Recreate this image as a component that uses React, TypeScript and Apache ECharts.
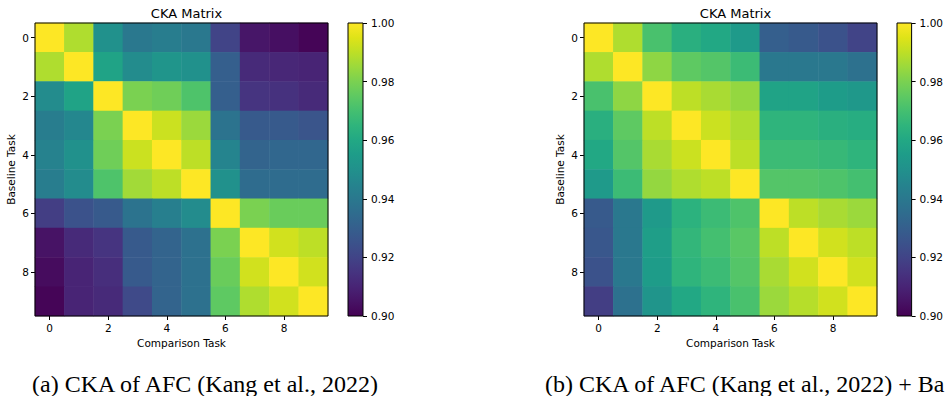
import React, { useEffect, useRef } from "react";
import * as echarts from "echarts";

const tasks = ["0", "1", "2", "3", "4", "5", "6", "7", "8", "9"];
const colorbarRange = [0.9, 1.0];
const colorbarInterval = 0.02;
const chartTitle = "CKA Matrix";
const xName = "Comparison Task";
const yName = "Baseline Task";
const captionA = "(a) CKA of AFC (Kang et al., 2022)";
const captionB = "(b) CKA of AFC (Kang et al., 2022) + Ba";

// rows = Baseline Task, columns = Comparison Task
const ckaAFC: number[][] = [
  [1.0, 0.988, 0.95, 0.94, 0.942, 0.94, 0.92, 0.906, 0.904, 0.901],
  [0.988, 1.0, 0.958, 0.948, 0.952, 0.95, 0.93, 0.912, 0.911, 0.91],
  [0.948, 0.958, 1.0, 0.98, 0.978, 0.972, 0.93, 0.915, 0.914, 0.912],
  [0.942, 0.946, 0.98, 1.0, 0.992, 0.985, 0.938, 0.928, 0.928, 0.926],
  [0.944, 0.95, 0.978, 0.992, 1.0, 0.99, 0.945, 0.932, 0.933, 0.933],
  [0.942, 0.948, 0.972, 0.986, 0.99, 1.0, 0.95, 0.935, 0.935, 0.935],
  [0.918, 0.925, 0.928, 0.938, 0.943, 0.948, 1.0, 0.98, 0.977, 0.977],
  [0.905, 0.912, 0.915, 0.928, 0.932, 0.937, 0.98, 1.0, 0.993, 0.99],
  [0.903, 0.91, 0.913, 0.928, 0.932, 0.937, 0.977, 0.993, 1.0, 0.993],
  [0.901, 0.91, 0.912, 0.922, 0.932, 0.937, 0.975, 0.988, 0.993, 1.0],
];

const ckaAFCPlus: number[][] = [
  [1.0, 0.988, 0.971, 0.963, 0.96, 0.954, 0.93, 0.928, 0.925, 0.92],
  [0.988, 1.0, 0.983, 0.975, 0.973, 0.968, 0.94, 0.94, 0.94, 0.937],
  [0.971, 0.983, 1.0, 0.99, 0.987, 0.984, 0.958, 0.958, 0.955, 0.953],
  [0.963, 0.975, 0.99, 1.0, 0.992, 0.988, 0.965, 0.965, 0.963, 0.962],
  [0.96, 0.973, 0.987, 0.992, 1.0, 0.99, 0.968, 0.968, 0.967, 0.965],
  [0.954, 0.968, 0.984, 0.988, 0.99, 1.0, 0.973, 0.973, 0.972, 0.97],
  [0.928, 0.94, 0.954, 0.964, 0.968, 0.972, 1.0, 0.99, 0.987, 0.985],
  [0.927, 0.94, 0.956, 0.966, 0.97, 0.974, 0.99, 1.0, 0.993, 0.99],
  [0.925, 0.94, 0.955, 0.965, 0.968, 0.973, 0.987, 0.993, 1.0, 0.993],
  [0.918, 0.937, 0.952, 0.96, 0.965, 0.971, 0.985, 0.989, 0.993, 1.0],
];

const viridis = [
  "#440154", "#471365", "#482475", "#463480", "#414487", "#3b528b", "#355f8d",
  "#2f6c8e", "#2a788e", "#25848e", "#21918c", "#1e9c89", "#22a884", "#2fb47c",
  "#44bf70", "#5ec962", "#7ad151", "#9bd93c", "#bddf26", "#dfe318", "#fde725",
];

const FONT = "DejaVu Sans";
const SERIF = "Liberation Serif";

function toCells(m: number[][]) {
  const out: [number, number, number][] = [];
  m.forEach((row, r) => row.forEach((v, c) => out.push([c, r, v])));
  return out;
}

export default function App() {
  const ref = useRef<HTMLDivElement>(null);
  useEffect(() => {
    document.body.style.margin = "0";
    if (!ref.current) return;
    const chart = echarts.init(ref.current, undefined, { renderer: "svg" });

    const heatLefts = [35, 584];
    const cbLefts = [348, 897];
    const top = 23;
    const size = 293;

    const grids: any[] = [];
    const xAxes: any[] = [];
    const yAxes: any[] = [];
    const series: any[] = [];
    const visualMaps: any[] = [];
    const titles: any[] = [];
    const mats = [ckaAFC, ckaAFCPlus];

    const labelStyle = { color: "#000", fontFamily: FONT, fontSize: 10.5 };
    const tickStyle = { show: true, length: 4, lineStyle: { color: "#000", width: 1 } };

    const gradStops = viridis.map((c, i) => ({ offset: i / (viridis.length - 1), color: c }));

    for (let k = 0; k < 2; k++) {
      const hg = grids.length;
      grids.push({
        left: heatLefts[k], top, width: size, height: size,
        show: true, borderColor: "#000", borderWidth: 1, backgroundColor: "transparent", z: 10,
      });
      const cg = grids.length;
      grids.push({
        left: cbLefts[k], top, width: 15, height: size,
        show: true, borderColor: "#000", borderWidth: 1, backgroundColor: "transparent", z: 10,
      });

      const hx = xAxes.length;
      xAxes.push({
        type: "category", gridIndex: hg, data: tasks, position: "bottom",
        name: xName, nameLocation: "middle", nameGap: 21,
        nameTextStyle: { color: "#000", fontFamily: FONT, fontSize: 10.5 },
        axisLine: { show: false },
        axisTick: { ...tickStyle, alignWithLabel: true, interval: 1 },
        axisLabel: { ...labelStyle, interval: 1, margin: 6 },
        splitLine: { show: false },
      });
      const cx = xAxes.length;
      xAxes.push({
        type: "category", gridIndex: cg, data: ["cb"], show: false,
      });
      const hy = yAxes.length;
      yAxes.push({
        type: "category", gridIndex: hg, data: tasks, inverse: true, position: "left",
        name: yName, nameLocation: "middle", nameGap: 19,
        nameTextStyle: { color: "#000", fontFamily: FONT, fontSize: 10.5 },
        axisLine: { show: false },
        axisTick: { ...tickStyle, alignWithLabel: true, interval: 1 },
        axisLabel: { ...labelStyle, interval: 1, margin: 6 },
        splitLine: { show: false },
      });
      const cy = yAxes.length;
      yAxes.push({
        type: "value", gridIndex: cg, position: "right",
        min: colorbarRange[0], max: colorbarRange[1], interval: colorbarInterval,
        axisLine: { show: false },
        axisTick: tickStyle,
        axisLabel: { ...labelStyle, margin: 8, formatter: (v: number) => v.toFixed(2) },
        splitLine: { show: false },
      });

      const si = series.length;
      series.push({
        type: "heatmap", xAxisIndex: hx, yAxisIndex: hy, data: toCells(mats[k]),
        emphasis: { disabled: true }, itemStyle: { borderWidth: 0 }, progressive: 0,
      });
      series.push({
        type: "bar", xAxisIndex: cx, yAxisIndex: cy, data: [colorbarRange[1]],
        barWidth: "100%", silent: true, clip: true,
        itemStyle: { color: new echarts.graphic.LinearGradient(0, 1, 0, 0, gradStops) },
      });
      visualMaps.push({
        type: "continuous", show: false, seriesIndex: si,
        min: colorbarRange[0], max: colorbarRange[1], inRange: { color: viridis },
      });
      titles.push({
        text: chartTitle, left: heatLefts[k] + size / 2, top: 2, textAlign: "center",
        textStyle: { color: "#000", fontFamily: FONT, fontSize: 13, fontWeight: "normal" },
      });
    }

    chart.setOption({
      animation: false,
      backgroundColor: "#fff",
      title: titles,
      grid: grids,
      xAxis: xAxes,
      yAxis: yAxes,
      visualMap: visualMaps,
      series,
      graphic: [
        {
          type: "text", x: 32, y: 384,
          style: { text: captionA, fill: "#000", font: `24px "${SERIF}"`, verticalAlign: "middle", align: "left" },
        },
        {
          type: "text", x: 545, y: 384,
          style: { text: captionB, fill: "#000", font: `24px "${SERIF}"`, verticalAlign: "middle", align: "left" },
        },
      ],
    });
    return () => chart.dispose();
  }, []);
  return (
    <div
      ref={ref}
      style={{ position: "absolute", left: 0, top: 0, width: 946, height: 396 }}
    />
  );
}
